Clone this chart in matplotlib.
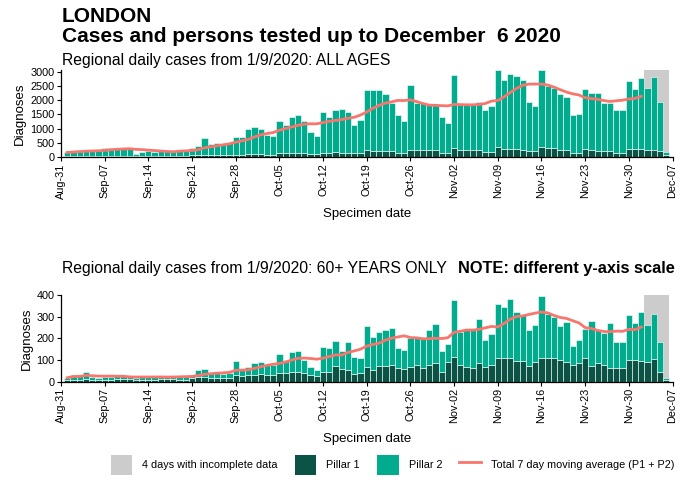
import matplotlib
matplotlib.use("Agg")
import matplotlib.pyplot as plt
import matplotlib.dates as mdates
import numpy as np
import pandas as pd
from matplotlib.patches import Patch
from matplotlib.lines import Line2D

plt.rcParams["font.family"] = ["Liberation Sans", "DejaVu Sans"]

# Specimen dates 1 Sep .. 6 Dec 2020
dates = pd.date_range("2020-09-01", "2020-12-06", freq="D")
tick_dates = pd.date_range("2020-08-31", "2020-12-07", freq="7D")
incomplete_first = pd.Timestamp("2020-12-03")
incomplete_last = pd.Timestamp("2020-12-06")

# All ages: bar totals and pillar 1 part
all_total = [
    160, 190, 220, 240, 250, 250, 330, 300, 300, 310, 300, 90, 190, 200,
    190, 200, 200, 220, 240, 260, 300, 380, 660, 450, 480, 470, 500, 700,
    720, 1000, 1070, 1000, 780, 750, 1280, 1130, 1400, 1480, 1250, 890, 740,
    1600, 1420, 1640, 1680, 1570, 1130, 1300, 2340, 2340, 2370, 2220, 1890,
    1480, 1250, 2540, 1890, 1890, 1840, 1840, 1390, 1200, 2900, 1840, 1840,
    1840, 1920, 1640, 1780, 3050, 2720, 2930, 2840, 2700, 1920, 1800, 3050,
    2480, 2420, 2210, 2110, 1480, 1520, 2390, 2250, 2250, 1890, 1890, 1660,
    1660, 2680, 2390, 2780, 2410, 2810, 1950, 190,
]
all_pillar1 = [
    30, 30, 35, 35, 25, 25, 40, 40, 40, 40, 40, 20, 25, 35, 35, 35, 35, 35,
    30, 40, 60, 70, 80, 70, 70, 60, 60, 80, 80, 100, 100, 100, 80, 80, 130,
    130, 130, 130, 130, 90, 90, 150, 150, 160, 150, 150, 130, 150, 250, 220,
    220, 220, 200, 150, 150, 250, 240, 240, 240, 230, 150, 130, 300, 250,
    250, 250, 240, 190, 190, 340, 270, 270, 270, 260, 220, 220, 340, 300,
    300, 250, 240, 130, 130, 270, 230, 220, 220, 220, 130, 130, 270, 270,
    270, 260, 260, 220, 60,
]

# 60+ years: bar totals and pillar 1 part
old_total = [
    18, 30, 25, 45, 20, 18, 22, 22, 24, 25, 24, 15, 20, 22, 23, 24, 22, 25,
    22, 25, 30, 55, 60, 42, 40, 35, 40, 97, 60, 70, 88, 92, 80, 75, 128, 100,
    138, 142, 100, 66, 54, 159, 154, 188, 140, 185, 115, 110, 257, 208, 231,
    237, 249, 154, 146, 200, 200, 200, 239, 266, 143, 173, 377, 231, 239,
    239, 288, 193, 218, 359, 343, 381, 323, 308, 239, 262, 396, 313, 300,
    257, 277, 165, 193, 243, 282, 239, 223, 269, 185, 185, 308, 273, 323,
    262, 313, 185, 18,
]
old_pillar1 = [
    8, 10, 10, 12, 8, 8, 10, 10, 12, 12, 12, 6, 8, 10, 10, 12, 12, 12, 10,
    10, 15, 20, 22, 18, 18, 15, 18, 30, 25, 30, 30, 35, 30, 30, 40, 38, 45,
    45, 40, 30, 25, 45, 45, 72, 60, 55, 35, 40, 66, 54, 72, 72, 77, 62, 57,
    66, 77, 62, 77, 85, 46, 92, 115, 77, 66, 62, 85, 66, 77, 108, 108, 108,
    97, 97, 72, 92, 111, 108, 108, 100, 92, 77, 88, 108, 72, 88, 77, 62, 62,
    62, 100, 100, 97, 92, 103, 46, 8,
]

GREY = "#cccccc"
P1_COLOR = "#0b5445"
P2_COLOR = "#00ab8e"
LINE_COLOR = "#f8766d"


def draw_panel(ax, total, pillar1, ymax, yticks):
    total = np.asarray(total, dtype=float)
    p1 = np.asarray(pillar1, dtype=float)
    p2 = total - p1
    x = mdates.date2num(dates)

    ax.axvspan(mdates.date2num(incomplete_first) - 0.5,
               mdates.date2num(incomplete_last) + 0.5,
               color=GREY, lw=0, zorder=0)
    ax.bar(x, p1, width=1.0, color=P1_COLOR, edgecolor="white",
           linewidth=0.4, zorder=2)
    ax.bar(x, p2, bottom=p1, width=1.0, color=P2_COLOR, edgecolor="white",
           linewidth=0.4, zorder=2)

    # trailing 7 day average, only over complete days
    ma = pd.Series(total).rolling(7, min_periods=1).mean().to_numpy()
    keep = dates < incomplete_first
    ax.plot(x[keep], ma[keep], color=LINE_COLOR, lw=2, zorder=3)

    ax.set_xlim(mdates.date2num(tick_dates[0]), mdates.date2num(tick_dates[-1]))
    ax.set_ylim(0, ymax)
    ax.set_yticks(yticks)
    ax.set_xticks(mdates.date2num(tick_dates))
    ax.set_xticklabels([d.strftime("%b-%d") for d in tick_dates], rotation=90)
    ax.tick_params(labelsize=7.8, length=3, width=0.8, pad=1.5)
    for side in ("top", "right"):
        ax.spines[side].set_visible(False)
    ax.spines["left"].set_linewidth(0.9)
    ax.spines["bottom"].set_linewidth(0.9)
    ax.set_ylabel("Diagnoses", fontsize=9.5, labelpad=3)
    ax.set_xlabel("Specimen date", fontsize=9.5, labelpad=7)


fig = plt.figure(figsize=(6.86, 4.83), dpi=100)
W, H = 686.0, 483.0
ax1 = fig.add_axes([61 / W, 1 - 157 / H, 611.5 / W, 87 / H])
ax2 = fig.add_axes([61 / W, 1 - 381.7 / H, 611.5 / W, 86.7 / H])

draw_panel(ax1, all_total, all_pillar1, 3060, range(0, 3001, 500))
draw_panel(ax2, old_total, old_pillar1, 400, range(0, 401, 100))

fig.text(62 / W, 1 - 16 / H, "LONDON", fontsize=15, weight="bold", va="center")
fig.text(62 / W, 1 - 36 / H, "Cases and persons tested up to December  6 2020",
         fontsize=15, weight="bold", va="center")
fig.text(62 / W, 1 - 61 / H, "Regional daily cases from 1/9/2020: ALL AGES",
         fontsize=11.3, va="center")
fig.text(62 / W, 1 - 268 / H, "Regional daily cases from 1/9/2020: 60+ YEARS ONLY",
         fontsize=11.3, va="center")
fig.text(458 / W, 1 - 268 / H, "NOTE: different y-axis scale",
         fontsize=11.8, weight="bold", va="center")

handles = [
    Patch(facecolor=GREY, edgecolor="none"),
    Patch(facecolor=P1_COLOR, edgecolor="none"),
    Patch(facecolor=P2_COLOR, edgecolor="none"),
    Line2D([], [], color=LINE_COLOR, lw=2),
]
labels = ["4 days with incomplete data", "Pillar 1", "Pillar 2",
          "Total 7 day moving average (P1 + P2)"]
fig.legend(handles, labels, loc="center", bbox_to_anchor=(0.572, 1 - 465 / H),
           ncol=4, frameon=False, fontsize=7.8, handlelength=2.0,
           handleheight=2.4, columnspacing=1.6, handletextpad=0.9)

fig.savefig("out.png", dpi=100)
